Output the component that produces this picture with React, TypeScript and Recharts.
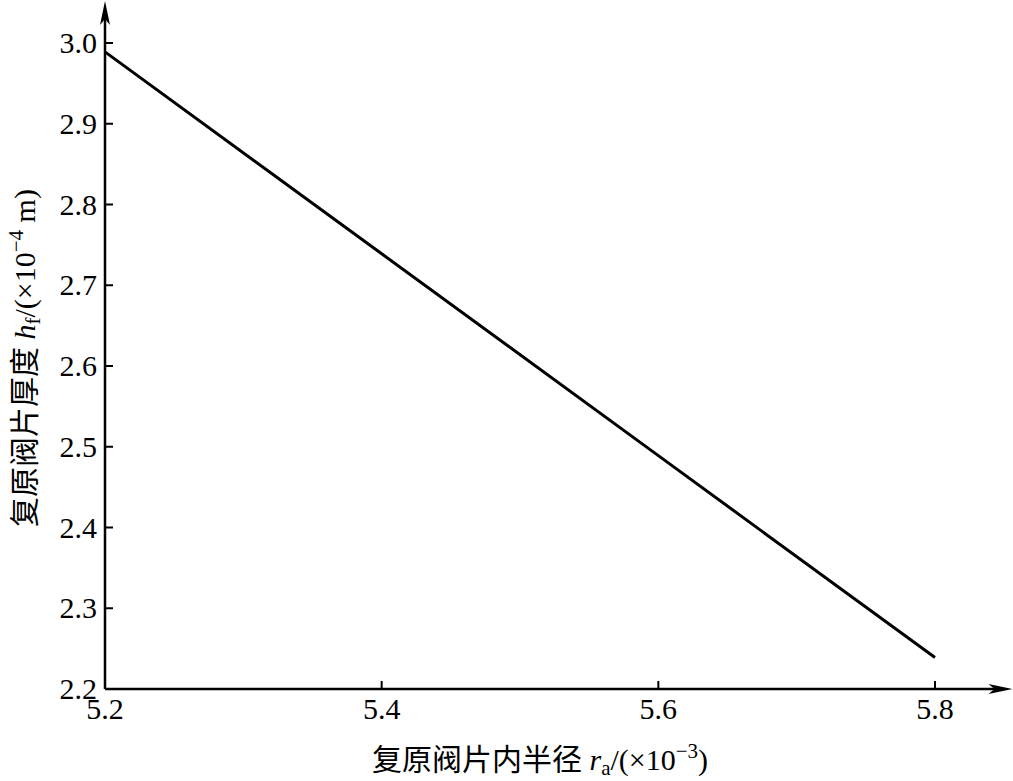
import { LineChart, Line, XAxis, YAxis, ReferenceLine } from "recharts"

// inner radius r_a (x1e-3) and valve thickness h_f (x1e-4 m)
const radius = [5.2, 5.4, 5.6, 5.8]
const thickness = [2.989, 2.739, 2.489, 2.239]
const xTicks = [5.2, 5.4, 5.6, 5.8]
const yTicks = [2.2, 2.3, 2.4, 2.5, 2.6, 2.7, 2.8, 2.9, 3.0]

const data = radius.map((r, i) => ({ r, h: thickness[i] }))

const font = "Liberation Serif, Noto Sans CJK SC, serif"

const ArrowAxis = (props: any) => {
  const { x1, y1, x2, y2 } = props
  const len = Math.hypot(x2 - x1, y2 - y1) || 1
  const ux = (x2 - x1) / len
  const uy = (y2 - y1) / len
  const px = -uy
  const py = ux
  const head = 24
  const half = 5
  const bx = x2 - ux * head
  const by = y2 - uy * head
  const nx = x2 - ux * (head - 6)
  const ny = y2 - uy * (head - 6)
  return (
    <g>
      <line x1={x1} y1={y1} x2={nx} y2={ny} stroke="#000" strokeWidth={2.5} />
      <path
        d={`M${x2},${y2} L${bx + px * half},${by + py * half} L${nx},${ny} L${bx - px * half},${by - py * half} Z`}
        fill="#000"
      />
    </g>
  )
}

const XTick = (props: any) => {
  const { x, y, payload } = props
  return (
    <text x={x} y={y + 20} textAnchor="middle" fontSize={30} fontFamily={font} fill="#000">
      {Number(payload.value).toFixed(1)}
    </text>
  )
}

const YTick = (props: any) => {
  const { x, y, payload } = props
  return (
    <text x={x} y={y + 10} textAnchor="end" fontSize={30} fontFamily={font} fill="#000">
      {Number(payload.value).toFixed(1)}
    </text>
  )
}

export default function App() {
  return (
    <div style={{ position: "absolute", left: 0, top: 0, background: "#fff", fontFamily: font }}>
      <LineChart
        width={1013}
        height={781}
        data={data}
        margin={{ top: 43, right: 78, bottom: 0, left: 0 }}
      >
        <XAxis
          type="number"
          dataKey="r"
          domain={[5.2, 5.8]}
          ticks={xTicks}
          axisLine={false}
          tickLine={{ stroke: "#000", strokeWidth: 2 }}
          tickSize={-8}
          tickMargin={18}
          height={92}
          tick={XTick}
        />
        <YAxis
          type="number"
          dataKey="h"
          domain={[2.2, 3.0]}
          ticks={yTicks}
          allowDataOverflow
          axisLine={false}
          tickLine={{ stroke: "#000", strokeWidth: 2 }}
          tickSize={-8}
          tickMargin={16}
          width={105}
          tick={YTick}
        />
        <ReferenceLine
          segment={[{ x: 5.2, y: 2.2 }, { x: 5.2, y: 3.052 }]}
          ifOverflow="visible"
          shape={ArrowAxis}
        />
        <ReferenceLine
          segment={[{ x: 5.2, y: 2.2 }, { x: 5.856, y: 2.2 }]}
          ifOverflow="visible"
          shape={ArrowAxis}
        />
        <Line
          type="linear"
          dataKey="h"
          stroke="#000"
          strokeWidth={3}
          dot={false}
          activeDot={false}
          isAnimationActive={false}
        />
        <text x={540} y={770} textAnchor="middle" fontSize={30} fontFamily={font} fill="#000">
          {"复原阀片内半径 "}
          <tspan fontStyle="italic">r</tspan>
          <tspan fontSize={21} dy={5}>a</tspan>
          <tspan dy={-5}>/(×10</tspan>
          <tspan fontSize={21} dy={-12}>−3</tspan>
          <tspan dy={12}>)</tspan>
        </text>
        <text
          x={35}
          y={358}
          textAnchor="middle"
          fontSize={30}
          fontFamily={font}
          fill="#000"
          transform="rotate(-90 35 358)"
        >
          {"复原阀片厚度 "}
          <tspan fontStyle="italic">h</tspan>
          <tspan fontSize={21} dy={5}>f</tspan>
          <tspan dy={-5}>/(×10</tspan>
          <tspan fontSize={21} dy={-12}>−4</tspan>
          <tspan dy={12}>{" m)"}</tspan>
        </text>
      </LineChart>
    </div>
  )
}
